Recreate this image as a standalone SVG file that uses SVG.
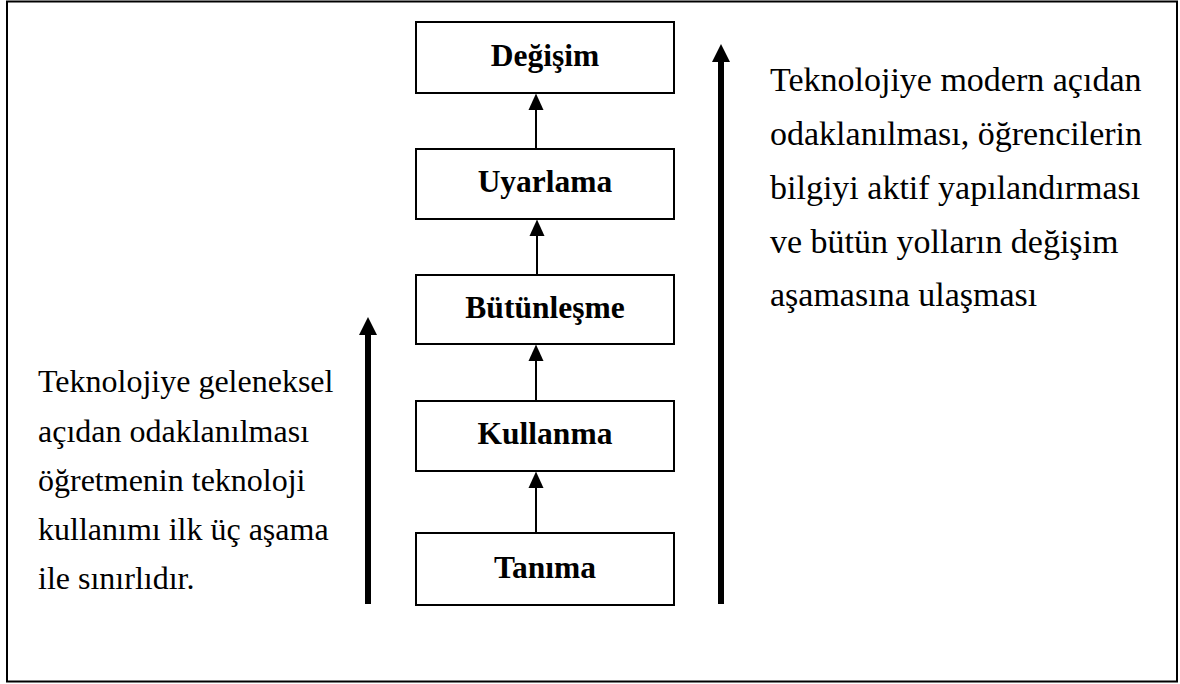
<svg xmlns="http://www.w3.org/2000/svg" width="1180" height="684" viewBox="0 0 1180 684">
  <defs>
    <style>
      .frame { fill: #ffffff; stroke: #000000; stroke-width: 2; }
      .box { fill: #ffffff; stroke: #000000; stroke-width: 2; }
      .label { font-family: "Liberation Serif", "Times New Roman", serif; font-size: 31.5px; font-weight: bold; fill: #000000; text-anchor: middle; }
      .note-l { font-family: "Liberation Serif", "Times New Roman", serif; font-size: 32px; fill: #000000; }
      .note-r { font-family: "Liberation Serif", "Times New Roman", serif; font-size: 34px; fill: #000000; }
      .link { stroke: #000000; stroke-width: 2; fill: none; }
      .trend { stroke: #000000; stroke-width: 6; fill: none; }
    </style>
    <!-- small head: base sits on the line end, tip points forward -->
    <marker id="head" markerUnits="userSpaceOnUse" markerWidth="17" markerHeight="16" refX="0" refY="7.5" orient="auto" viewBox="0 0 17 15">
      <path d="M0,0 L16.5,7.5 L0,15 z" fill="#000000"/>
    </marker>
    <marker id="bighead" markerUnits="userSpaceOnUse" markerWidth="19" markerHeight="19" refX="0" refY="9" orient="auto" viewBox="0 0 19 18">
      <path d="M0,0 L18,9 L0,18 z" fill="#000000"/>
    </marker>
  </defs>

  <!-- outer frame -->
  <rect class="frame" x="7" y="1.5" width="1170" height="680"/>

  <!-- connectors between the stages, plus the two long trend arrows -->
  <g id="connectors">
    <line class="link" x1="536" y1="149" x2="536" y2="110" marker-end="url(#head)"/>
    <line class="link" x1="537" y1="275" x2="537" y2="236" marker-end="url(#head)"/>
    <line class="link" x1="536" y1="401" x2="536" y2="361" marker-end="url(#head)"/>
    <line class="link" x1="536" y1="533" x2="536" y2="488" marker-end="url(#head)"/>
    <line class="trend" x1="368" y1="604" x2="368" y2="335" marker-end="url(#bighead)"/>
    <line class="trend" x1="721" y1="604" x2="721" y2="62" marker-end="url(#bighead)"/>
  </g>

  <g id="degisim">
    <rect class="box" x="416" y="22" width="258" height="71"/>
    <text class="label" x="545" y="66">Değişim</text>
  </g>
  <g id="uyarlama">
    <rect class="box" x="416" y="149" width="258" height="70"/>
    <text class="label" x="545" y="192">Uyarlama</text>
  </g>
  <g id="butunlesme">
    <rect class="box" x="416" y="275" width="258" height="69"/>
    <text class="label" x="545" y="318">Bütünleşme</text>
  </g>
  <g id="kullanma">
    <rect class="box" x="416" y="401" width="258" height="70"/>
    <text class="label" x="545" y="444">Kullanma</text>
  </g>
  <g id="tanima">
    <rect class="box" x="416" y="533" width="258" height="72"/>
    <text class="label" x="545" y="578">Tanıma</text>
  </g>

  <!-- side notes -->
  <g id="note-left">
    <text class="note-l" x="38" y="392">Teknolojiye geleneksel</text>
    <text class="note-l" x="38" y="442">açıdan odaklanılması</text>
    <text class="note-l" x="38" y="491">öğretmenin teknoloji</text>
    <text class="note-l" x="38" y="540">kullanımı ilk üç aşama</text>
    <text class="note-l" x="38" y="589">ile sınırlıdır.</text>
  </g>
  <g id="note-right">
    <text class="note-r" x="770" y="91">Teknolojiye modern açıdan</text>
    <text class="note-r" x="770" y="145">odaklanılması, öğrencilerin</text>
    <text class="note-r" x="770" y="199">bilgiyi aktif yapılandırması</text>
    <text class="note-r" x="770" y="253">ve bütün yolların değişim</text>
    <text class="note-r" x="770" y="306">aşamasına ulaşması</text>
  </g>
</svg>
